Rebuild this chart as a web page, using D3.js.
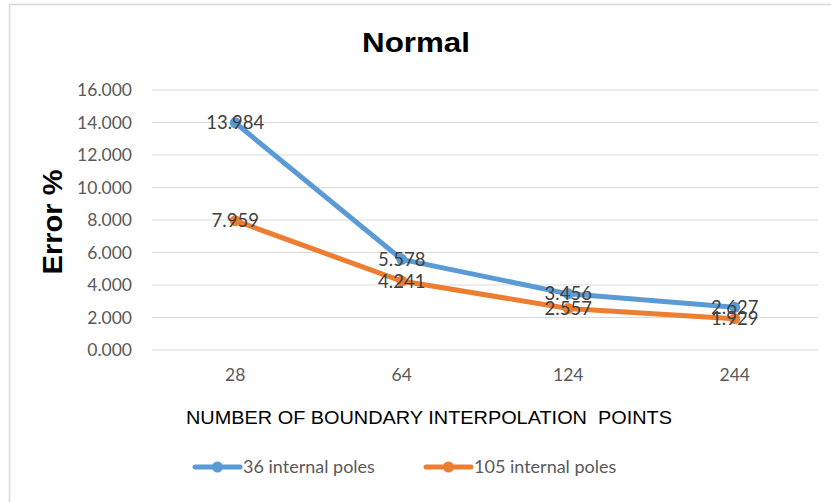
<!DOCTYPE html>
<html><head><meta charset="utf-8">
<script src="https://cdn.jsdelivr.net/npm/d3@7"></script>
<style>body{margin:0;background:#fff}svg{display:block}</style>
</head><body>
<script>
const categories = ["28", "64", "124", "244"];
const series36 = [13.984, 5.578, 3.456, 2.627];
const series105 = [7.959, 4.241, 2.557, 1.929];
const seriesNames = ["36 internal poles", "105 internal poles"];
const yTicks = [0, 2, 4, 6, 8, 10, 12, 14, 16];
const colors = ["#5B9BD5", "#ED7D31"];

const W = 831, H = 502;
const svg = d3.select("body").append("svg").attr("width", W).attr("height", H);
svg.append("rect").attr("width", W).attr("height", H).attr("fill", "#fff");
// chart area border
svg.append("rect").attr("x", 9.5).attr("y", 4.5).attr("width", W + 20).attr("height", H + 20)
  .attr("fill", "none").attr("stroke", "#d9d9d9").attr("stroke-width", 1.5);

const x = d3.scaleBand().domain(categories).range([152, 818]);
const y = d3.scaleLinear().domain([0, 16]).range([350, 90]);

// gridlines
svg.append("g").selectAll("line").data(yTicks).join("line")
  .attr("x1", 152).attr("x2", 818)
  .attr("y1", d => y(d)).attr("y2", d => y(d))
  .attr("stroke", "#d9d9d9").attr("stroke-width", 1);

// y axis labels
const yAxis = d3.axisLeft(y).tickValues(yTicks).tickFormat(d3.format(".3f")).tickSize(0).tickPadding(0);
const ya = svg.append("g").attr("transform", "translate(132,0)").call(yAxis);
ya.select(".domain").remove();
ya.selectAll("text").attr("font-family", "Lato, 'Open Sans', sans-serif").attr("font-size", 17.5)
  .attr("fill", "#595959");

// x axis labels
const xAxis = d3.axisBottom(x).tickSize(0).tickPadding(0);
const xa = svg.append("g").attr("transform", "translate(0,369)").call(xAxis);
xa.select(".domain").remove();
xa.selectAll("text").attr("font-family", "Lato, 'Open Sans', sans-serif").attr("font-size", 17.5)
  .attr("fill", "#595959");

// title
svg.append("text").attr("x", 416).attr("y", 52).attr("text-anchor", "middle")
  .attr("font-family", "'Liberation Sans Narrow', 'Liberation Sans', Arial, sans-serif")
  .attr("font-weight", "bold").attr("font-size", 28).attr("fill", "#000")
  .attr("textLength", 108).attr("lengthAdjust", "spacingAndGlyphs").text("Normal");

// y title
svg.append("text").attr("transform", "translate(62,222) rotate(-90)").attr("text-anchor", "middle")
  .attr("font-family", "'Liberation Sans', Arial, sans-serif").attr("font-weight", "bold")
  .attr("font-size", 28).attr("fill", "#000")
  .attr("textLength", 105).attr("lengthAdjust", "spacingAndGlyphs").text("Error %");

// x title
svg.append("text").attr("x", 186).attr("y", 424)
  .attr("font-family", "'Liberation Sans Narrow', 'Liberation Sans', Arial, sans-serif")
  .attr("font-size", 18).attr("fill", "#000").attr("xml:space", "preserve")
  .attr("textLength", 486).attr("lengthAdjust", "spacingAndGlyphs")
  .text("NUMBER OF BOUNDARY INTERPOLATION  POINTS");

const allSeries = [series36, series105];
const cx = c => x(c) + x.bandwidth() / 2;
const line = d3.line().x((d, i) => cx(categories[i])).y(d => y(d));

allSeries.forEach((s, k) => {
  svg.append("path").datum(s).attr("d", line).attr("fill", "none")
    .attr("stroke", colors[k]).attr("stroke-width", 5).attr("stroke-linejoin", "round").attr("stroke-linecap", "round");
  svg.append("g").selectAll("circle").data(s).join("circle")
    .attr("cx", (d, i) => cx(categories[i])).attr("cy", d => y(d)).attr("r", 5.5)
    .attr("fill", colors[k]);
});
allSeries.forEach((s, k) => {
  svg.append("g").selectAll("text").data(s).join("text")
    .attr("x", (d, i) => cx(categories[i])).attr("y", d => y(d)).attr("dy", "0.35em")
    .attr("text-anchor", "middle")
    .attr("font-family", "Lato, 'Open Sans', sans-serif").attr("font-size", 18.5)
    .attr("fill", "#404040").text(d => d3.format(".3f")(d));
});

// legend
const legX = [195, 426];
seriesNames.forEach((n, k) => {
  const g = svg.append("g").attr("transform", `translate(${legX[k]},467)`);
  g.append("line").attr("x1", 0).attr("x2", 45).attr("stroke", colors[k]).attr("stroke-width", 5)
    .attr("stroke-linecap", "round");
  g.append("circle").attr("cx", 22.5).attr("r", 5.5).attr("fill", colors[k]);
  g.append("text").attr("x", 48).attr("dy", "0.35em")
    .attr("font-family", "Lato, 'Open Sans', sans-serif").attr("font-size", 18)
    .attr("fill", "#595959").text(n);
});
</script>
</body></html>
